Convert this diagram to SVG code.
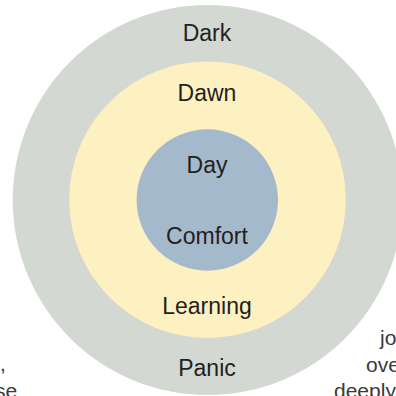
<svg xmlns="http://www.w3.org/2000/svg" width="396" height="396" viewBox="0 0 396 396">
  <style>
    .lbl { font-family: "Liberation Sans", Arial, sans-serif; font-size: 23px; fill: #231f20; text-anchor: middle; }
    .body { font-family: "Liberation Sans", Arial, sans-serif; font-size: 21px; fill: #3a3a3a; }
  </style>
  <rect width="396" height="396" fill="#ffffff"/>
  <!-- surrounding body text, clipped at the page edges -->
  <g id="page-text">
    <text class="body" x="380" y="345">jo</text>
    <text class="body" x="366" y="372">ove</text>
    <text class="body" x="334" y="398">deeply</text>
    <text class="body" x="0" y="371">,</text>
    <text class="body" x="-5" y="398">se</text>
  </g>
  <g id="dark-zone">
    <circle cx="207.7" cy="200" r="195" fill="#d3d8d3"/>
    <text class="lbl" x="207" y="41">Dark</text>
    <text class="lbl" x="207" y="376">Panic</text>
  </g>
  <g id="dawn-zone">
    <circle cx="207.5" cy="199.7" r="138.3" fill="#fdf1c1"/>
    <text class="lbl" x="207" y="101">Dawn</text>
    <text class="lbl" x="207" y="314">Learning</text>
  </g>
  <g id="day-zone">
    <circle cx="207.3" cy="200" r="70.7" fill="#a5b9cc"/>
    <text class="lbl" x="207" y="173">Day</text>
    <text class="lbl" x="207" y="244">Comfort</text>
  </g>
  <g id="connectors"/>
</svg>
